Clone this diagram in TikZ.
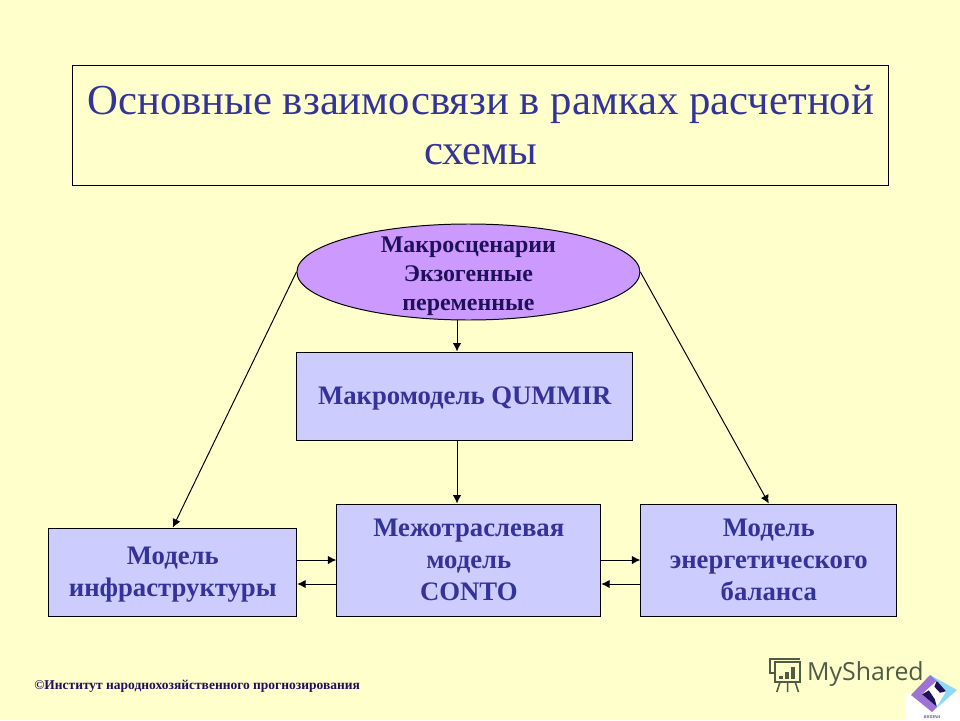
\documentclass[tikz,border=0pt]{standalone}
\usepackage{fontspec}
\setmainfont{Liberation Serif}
\newfontfamily\markfont{Open Sans}
\usetikzlibrary{shapes.geometric}
\usetikzlibrary{arrows.meta}
\definecolor{paper}{HTML}{FFFFCC}
\definecolor{boxfill}{HTML}{CCCCFF}
\definecolor{ovalfill}{HTML}{CC99FF}
\definecolor{inkblue}{HTML}{333399}
\definecolor{inkdark}{HTML}{1F1059}
\definecolor{markgrey}{HTML}{4F5B45}
\tikzset{
    modelbox/.style={draw=black,line width=0.7pt,fill=boxfill,align=center,text=inkblue,font=\fontsize{19}{22.8}\selectfont\bfseries,inner sep=0pt},
    link/.style={draw=black,line width=0.7pt,-{Latex[length=6pt,width=6pt]}}
}
\begin{document}
\begin{tikzpicture}
    \fill[paper] (0,0) rectangle (24,18);
    \useasboundingbox (0,0) rectangle (24,18);
    \node[draw=black,line width=0.7pt,fill=paper,align=center,text=inkblue,font=\fontsize{30.4}{36}\selectfont,text depth=-1.4pt,minimum width=20.4cm,minimum height=3cm,inner sep=0pt] (title) at (12.02,14.875) {Основные взаимосвязи в рамках расчетной\\схемы};
    \node[ellipse,draw=black,line width=0.7pt,fill=ovalfill,minimum width=8.575cm,minimum height=2.4cm,inner sep=0pt] (oval) at (11.71,11.2) {};
    \node[align=center,text=inkdark,font=\fontsize{17}{20.6}\selectfont\bfseries,inner sep=0pt] (ovaltext) at (11.71,11.1) {Макросценарии\\Экзогенные\\переменные};
    \node[modelbox,text depth=-1.6pt,minimum width=8.4cm,minimum height=2.2cm] (macro) at (11.62,8.1) {Макромодель QUMMIR};
    \node[modelbox,text depth=-2.8pt,minimum width=6.6cm,minimum height=2.8cm] (inter) at (11.72,4.0) {Межотраслевая\\модель\\CONTO};
    \node[modelbox,text depth=-3pt,minimum width=6.2cm,minimum height=2.2cm] (infra) at (4.32,3.7) {Модель\\инфраструктуры};
    \node[modelbox,text depth=-2.8pt,minimum width=6.4cm,minimum height=2.8cm] (energy) at (19.22,4.0) {Модель\\энергетического\\баланса};
    \coordinate (axis) at (11.425,0);
    \coordinate (back) at (0,3.4);
    \draw[link] (oval.west) -- (infra.north);
    \draw[link] (oval.east) -- (energy.north);
    \draw[link] (oval.south -| axis) -- (macro.north -| axis);
    \draw[link] (macro.south -| axis) -- (inter.north -| axis);
    \draw[link] (infra.east |- inter.west) -- (inter.west);
    \draw[link] (inter.west |- back) -- (infra.east |- back);
    \draw[link] (inter.east) -- (energy.west);
    \draw[link] (energy.west |- back) -- (inter.east |- back);
    % footer
    \node[anchor=west,inner sep=0pt,text=inkdark,font=\fontsize{9.6}{11}\selectfont\bfseries] (source) at (0.85,0.84) {©Институт народнохозяйственного прогнозирования};
    % watermark
    \node[anchor=west,inner sep=0pt,text=markgrey,font=\markfont\fontsize{17.7}{20}\selectfont] (mark) at (20.17,1.15) {MyShared};
    \draw[markgrey,line width=1.1pt] (19.375,1.45) rectangle (20.0,0.95);
    \draw[markgrey,line width=1.1pt] (20.0,1.52) -- (19.25,1.52) -- (19.25,1.175) -- (19.375,1.175);
    \draw[markgrey,line width=1.1pt] (19.5,0.95) -- (19.42,0.7) (19.69,0.95) -- (19.69,0.7) (19.88,0.95) -- (19.96,0.7);
    \foreach \x/\h in {19.48/0.08,19.63/0.18,19.78/0.3}{
        \fill[markgrey] (\x,1.02) rectangle ++(0.09,\h);
    }
    % logo
    \fill[white] (22.62,0) rectangle (24,0.68);
    \fill[cyan!45] (23.25,1.125) -- (23.925,0.75) -- (23.3,0.2) -- cycle;
    \fill[blue!40!violet!55] (23.25,1.125) -- (22.775,0.625) -- (23.3,0.2) -- (23.42,0.33) -- (23.05,0.64) -- (23.42,0.98) -- cycle;
    \fill[white!80!paper] (23.42,0.98) -- (23.65,0.72) -- (23.42,0.33) -- (23.05,0.64) -- cycle;
    \fill[inkdark] (23.05,0.64) -- (23.22,0.74) -- (23.37,0.52) -- (23.42,0.33) -- cycle;
    \fill[inkdark] (23.42,0.98) -- (23.65,0.72) -- (23.5,0.68) -- (23.36,0.83) -- cycle;
    \node[inner sep=0pt,text=inkdark,font=\fontsize{3}{3}\selectfont] (logotext) at (23.3,0.08) {ИНПРАН};
\end{tikzpicture}
\end{document}
